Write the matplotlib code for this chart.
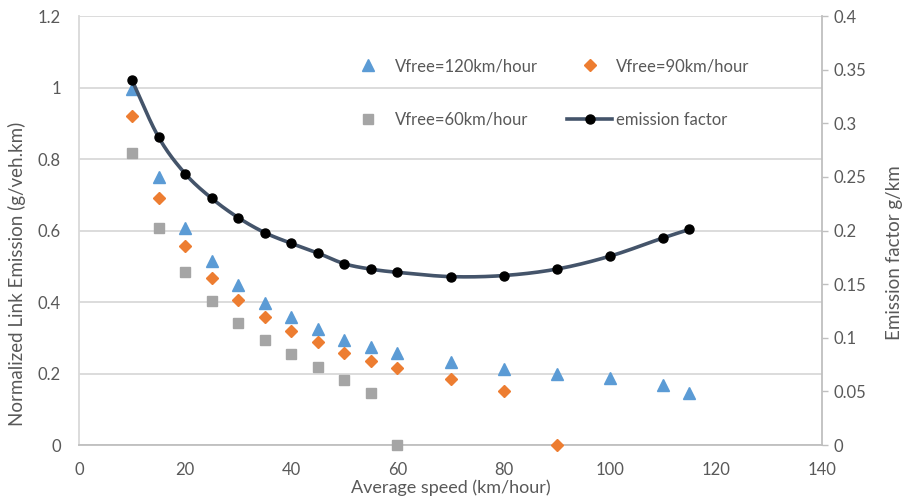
import numpy as np
import matplotlib
matplotlib.use("Agg")
import matplotlib.pyplot as plt
from matplotlib.lines import Line2D

# ---- data ----
speed_120 = [10, 15, 20, 25, 30, 35, 40, 45, 50, 55, 60, 70, 80, 90, 100, 110, 115]
emis_120 = [0.995, 0.749, 0.606, 0.514, 0.447, 0.396, 0.358, 0.325, 0.294, 0.273, 0.256, 0.231, 0.212, 0.199, 0.187, 0.167, 0.145]

speed_90 = [10, 15, 20, 25, 30, 35, 40, 45, 50, 55, 60, 70, 80, 90]
emis_90 = [0.920, 0.690, 0.557, 0.467, 0.406, 0.358, 0.319, 0.288, 0.256, 0.235, 0.216, 0.184, 0.150, 0.0]

speed_60 = [10, 15, 20, 25, 30, 35, 40, 45, 50, 55, 60]
emis_60 = [0.818, 0.607, 0.485, 0.402, 0.341, 0.294, 0.255, 0.219, 0.181, 0.145, 0.0]

speed_ef = [10, 15, 20, 25, 30, 35, 40, 45, 50, 55, 60, 70, 80, 90, 100, 110, 115]
factor_ef = [0.340, 0.287, 0.253, 0.230, 0.212, 0.198, 0.188, 0.179, 0.169, 0.164, 0.161, 0.157, 0.158, 0.164, 0.176, 0.193, 0.201]

x_ticks = [0, 20, 40, 60, 80, 100, 120, 140]
left_ticks = [0, 0.2, 0.4, 0.6, 0.8, 1.0, 1.2]
left_labels = ["0", "0.2", "0.4", "0.6", "0.8", "1", "1.2"]
right_ticks = [0, 0.05, 0.1, 0.15, 0.2, 0.25, 0.3, 0.35, 0.4]
right_labels = ["0", "0.05", "0.1", "0.15", "0.2", "0.25", "0.3", "0.35", "0.4"]

plt.rcParams['font.family'] = ['Lato', 'DejaVu Sans']
TXT = '#595959'
GRID = '#D9D9D9'
BLUE = '#5B9BD5'
ORANGE = '#ED7D31'
GRAY = '#A5A5A5'
NAVY = '#44546A'
TICK_FS = 12
LAB_FS = 13.5


def smooth(xs, ys, n=20):
    # Catmull-Rom style rendering of the smoothed line through data points
    xs = np.asarray(xs, float); ys = np.asarray(ys, float)
    px = np.concatenate([[2 * xs[0] - xs[1]], xs, [2 * xs[-1] - xs[-2]]])
    py = np.concatenate([[2 * ys[0] - ys[1]], ys, [2 * ys[-1] - ys[-2]]])
    ox, oy = [], []
    for i in range(1, len(px) - 2):
        t = np.linspace(0, 1, n, endpoint=False)
        p0, p1, p2, p3 = (px[i-1], py[i-1]), (px[i], py[i]), (px[i+1], py[i+1]), (px[i+2], py[i+2])
        for arr, k in ((ox, 0), (oy, 1)):
            a0, a1, a2, a3 = p0[k], p1[k], p2[k], p3[k]
            m1 = (a2 - a0) / 2 / 3
            m2 = (a3 - a1) / 2 / 3
            b = ((1 - t) ** 3) * a1 + 3 * ((1 - t) ** 2) * t * (a1 + m1) + 3 * (1 - t) * t ** 2 * (a2 - m2) + t ** 3 * a2
            arr.extend(b)
    ox.append(xs[-1]); oy.append(ys[-1])
    return np.array(ox), np.array(oy)


fig = plt.figure(figsize=(9.05, 4.96), dpi=100)
ax = fig.add_axes([79 / 905, 1 - 445 / 496, (822 - 79) / 905, (445 - 16) / 496])
ax2 = ax.twinx()

ax.set_xlim(0, 140)
ax.set_ylim(0, 1.2)
ax2.set_ylim(0, 0.4)

ax.set_xticks(x_ticks)
ax.set_yticks(left_ticks)
ax.set_yticklabels(left_labels)
ax2.set_yticks(right_ticks)
ax2.set_yticklabels(right_labels)

ax.grid(axis='y', color=GRID, lw=1.3)
ax.set_axisbelow(True)

for a in (ax, ax2):
    for s in a.spines.values():
        s.set_visible(False)
ax.spines['left'].set_visible(True)
ax.spines['left'].set_color(GRID)
ax.spines['left'].set_linewidth(1.3)
ax.spines['bottom'].set_visible(True)
ax.spines['bottom'].set_color('#BFBFBF')
ax.spines['bottom'].set_linewidth(1.3)
ax2.spines['right'].set_visible(True)
ax2.spines['right'].set_color('#BFBFBF')
ax2.spines['right'].set_linewidth(1.3)

ax.tick_params(axis='both', length=0, labelsize=TICK_FS, labelcolor=TXT)
ax.tick_params(axis='x', pad=12)
ax.tick_params(axis='y', pad=13)
ax2.tick_params(axis='y', length=4, width=1.0, color='#BFBFBF', direction='out', labelsize=TICK_FS, labelcolor=TXT, pad=4)

ms_kw = dict(linestyle='none', clip_on=False, zorder=3)
ax.plot(speed_120, emis_120, marker='^', color=BLUE, markersize=8.5, **ms_kw)
ax.plot(speed_90, emis_90, marker='D', color=ORANGE, markersize=6, **ms_kw)
ax.plot(speed_60, emis_60, marker='s', color=GRAY, markersize=7.5, **ms_kw)

sx, sy = smooth(speed_ef, factor_ef)
ax2.plot(sx, sy, color=NAVY, lw=2.6, solid_capstyle='round', zorder=3)
ax2.plot(speed_ef, factor_ef, linestyle='none', marker='o', color='black', markersize=6.5, zorder=4)

ax.set_xlabel('Average speed (km/hour)', fontsize=13, color=TXT, va='center')
ax.xaxis.set_label_coords(0.5, -0.1)
ax.set_ylabel('Normalized Link Emission (g/veh.km)', fontsize=LAB_FS, color=TXT, va='center')
ax.yaxis.set_label_coords(-0.083, 0.40)
ax2.set_ylabel('Emission factor g/km', fontsize=LAB_FS, color=TXT, rotation=90, va='center')
ax2.yaxis.set_label_coords(1.098, 0.448)

h_tri = Line2D([], [], linestyle='none', marker='^', color=BLUE, markersize=8.5)
h_dia = Line2D([], [], linestyle='none', marker='D', color=ORANGE, markersize=6)
h_sq = Line2D([], [], linestyle='none', marker='s', color=GRAY, markersize=7.5)
h_ln = Line2D([], [], color=NAVY, lw=2.6, marker='o', markerfacecolor='black', markeredgecolor='black', markersize=6.5)
leg = ax.legend([h_tri, h_sq, h_dia, h_ln],
                ['Vfree=120km/hour', 'Vfree=60km/hour', 'Vfree=90km/hour', 'emission factor'],
                ncol=2, loc='upper left', bbox_to_anchor=(0.359, 0.902), frameon=False,
                fontsize=TICK_FS, labelcolor=TXT, handlelength=2.7, handletextpad=0.25,
                columnspacing=1.75, labelspacing=2.25, borderpad=0, borderaxespad=0)

fig.savefig('out.png', dpi=100)
